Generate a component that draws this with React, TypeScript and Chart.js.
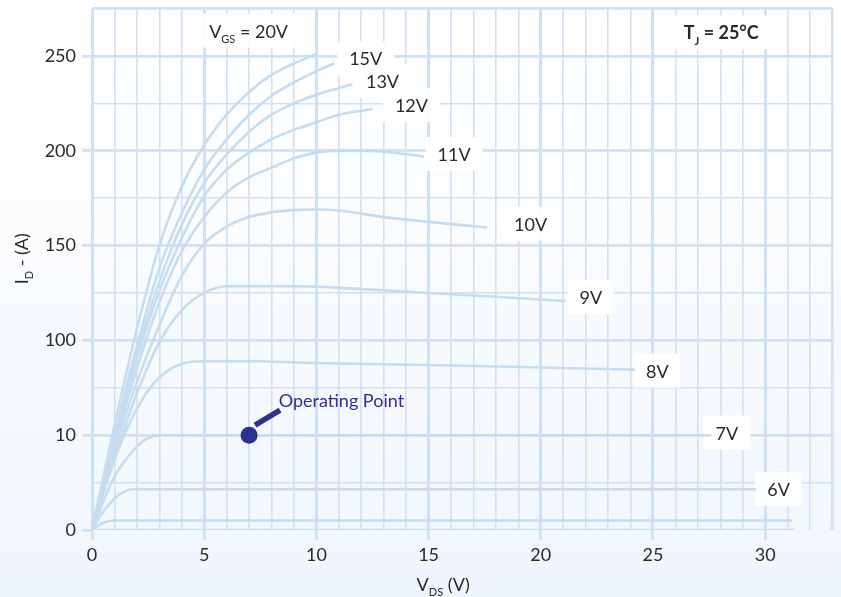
import React, { useEffect, useRef } from 'react';
import { Chart, registerables } from 'chart.js';

Chart.register(...registerables);

// ---------- data ----------
const xTickValues = [0, 5, 10, 15, 20, 25, 30];
const yTickValues = [0, 50, 100, 150, 200, 250];
const yTickLabels = ['0', '10', '100', '150', '200', '250'];

const v20X = [0, 1, 2, 3, 4, 5, 6, 7, 8, 9, 10];
const v20Y = [0, 55, 106, 150, 181, 203, 219, 231, 240, 246, 251];

const v15X = [0, 1, 2, 3, 4, 5, 6, 7, 8, 9, 10, 10.8];
const v15Y = [0, 50, 97, 138, 167, 190, 206, 219, 229, 236, 242, 246];

const v13X = [0, 1, 2, 3, 4, 5, 6, 7, 8, 9, 10, 11, 11.6];
const v13Y = [0, 48, 93, 131, 161, 183, 198, 210, 219, 225, 229.5, 233, 235];

const v12X = [0, 1, 2, 3, 4, 5, 6, 7, 8, 9, 10, 11, 12.5];
const v12Y = [0, 47, 90, 126, 154, 176, 190, 199, 206, 211, 215, 219, 222];

const v11X = [0, 1, 2, 3, 4, 5, 6, 7, 8, 9, 10, 11, 12, 13, 14.8];
const v11Y = [0, 45, 85, 120, 147, 165, 178, 186, 191, 196, 199, 200, 200, 199.5, 197];

const v10X = [0, 1, 2, 3, 4, 5, 6, 7, 8, 9, 10, 11, 13, 15, 17.6];
const v10Y = [0, 42, 78, 108, 134, 151, 160, 165, 167.5, 168.7, 169, 168.5, 165, 162.5, 159.5];

const v9X = [0, 1, 2, 3, 4, 5, 6, 9.2, 12, 15, 18, 21.1];
const v9Y = [0, 38, 72, 99, 116, 125, 128.5, 128.5, 127, 125, 123, 120.7];

const v8X = [0, 0.8, 1.5, 2.2, 2.8, 3.5, 4.3, 5, 7, 10, 15, 20, 24.2];
const v8Y = [0, 30, 52, 68, 78, 85, 88.5, 89, 89, 88, 87, 85.7, 84.5];

const v7X = [0, 0.5, 1, 1.5, 2, 2.5, 3, 27.6];
const v7Y = [0, 15, 28, 37, 44, 48.5, 50, 50];

const v6X = [0, 0.4, 0.8, 1.2, 1.8, 29.6];
const v6Y = [0, 8, 14, 18.5, 21.5, 21.5];

const v5X = [0, 0.3, 0.6, 1, 31.2];
const v5Y = [0, 2.5, 4.2, 5, 5];

const v4X = [0, 31.3];
const v4Y = [0, 0];

const opX = [7];
const opY = [50];

const curveLabels = ['15V', '13V', '12V', '11V', '10V', '9V', '8V', '7V', '6V'];
const curveLabelX = [11.46, 12.21, 13.5, 15.4, 18.81, 21.73, 24.69, 27.79, 30.09];
const curveLabelY = [245.0, 232.9, 220.4, 194.6, 157.9, 119.1, 80.3, 47.7, 17.8];

const series = [
  [v20X, v20Y], [v15X, v15Y], [v13X, v13Y], [v12X, v12Y], [v11X, v11Y],
  [v10X, v10Y], [v9X, v9Y], [v8X, v8Y], [v7X, v7Y], [v6X, v6Y], [v5X, v5Y], [v4X, v4Y],
];

// ---------- style ----------
const FONT = 'Lato, "Open Sans", sans-serif';
const GRID = '#cfe1f2';
const CURVE = '#c6dcef';
const NAVY = '#2e3192';
const TEXT = '#2a2a2a';
const TRANSPARENT = 'rgba(0,0,0,0)';

type Part = { t: string; sub?: boolean };

function drawParts(ctx: CanvasRenderingContext2D, parts: Part[], x: number, y: number, size: number, bold: boolean, color: string) {
  let cx = x;
  const w = bold ? 'bold ' : '';
  ctx.fillStyle = color;
  ctx.textAlign = 'left';
  ctx.textBaseline = 'alphabetic';
  for (const p of parts) {
    if (p.sub) {
      ctx.font = `${w}${Math.round(size * 0.62)}px ${FONT}`;
      ctx.fillText(p.t, cx, y + size * 0.3);
    } else {
      ctx.font = `${w}${size}px ${FONT}`;
      ctx.fillText(p.t, cx, y);
    }
    cx += ctx.measureText(p.t).width;
  }
  return cx - x;
}

function measureParts(ctx: CanvasRenderingContext2D, parts: Part[], size: number, bold: boolean) {
  let w = 0;
  const b = bold ? 'bold ' : '';
  for (const p of parts) {
    ctx.font = `${b}${p.sub ? Math.round(size * 0.62) : size}px ${FONT}`;
    w += ctx.measureText(p.t).width;
  }
  return w;
}

const annotPlugin = {
  id: 'annot',
  beforeDatasetsDraw(chart: any) {
    const { ctx, scales } = chart;
    const xs = scales.x;
    const ys = scales.y;
    ctx.save();
    const size = 18;
    const boxes: { parts: Part[]; x: number; y: number; bold: boolean }[] = [];
    curveLabels.forEach((t, i) => {
      boxes.push({ parts: [{ t }], x: xs.getPixelForValue(curveLabelX[i]), y: ys.getPixelForValue(curveLabelY[i]), bold: false });
    });
    boxes.push({ parts: [{ t: 'V' }, { t: 'GS', sub: true }, { t: ' = 20V' }], x: xs.getPixelForValue(5.22), y: ys.getPixelForValue(259.7), bold: false });
    boxes.push({ parts: [{ t: 'T' }, { t: 'J', sub: true }, { t: ' = 25°C' }], x: xs.getPixelForValue(26.37), y: ys.getPixelForValue(258.7), bold: true });
    ctx.fillStyle = 'rgba(255,255,255,0.92)';
    boxes.forEach((b) => {
      const w = measureParts(ctx, b.parts, size, b.bold);
      ctx.fillRect(b.x - 12, b.y - 24, w + 24, 34);
    });
    boxes.forEach((b) => {
      drawParts(ctx, b.parts, b.x, b.y, size, b.bold, TEXT);
    });
    ctx.restore();
  },
  afterDatasetsDraw(chart: any) {
    const { ctx, scales, chartArea } = chart;
    const xs = scales.x;
    const ys = scales.y;
    ctx.save();
    const cx = xs.getPixelForValue(opX[0]);
    const cy = ys.getPixelForValue(opY[0]);
    ctx.strokeStyle = NAVY;
    ctx.lineWidth = 5.5;
    ctx.lineCap = 'butt';
    ctx.beginPath();
    ctx.moveTo(cx + 6, cy - 10);
    ctx.lineTo(cx + 31, cy - 25);
    ctx.stroke();
    ctx.font = `18px ${FONT}`;
    ctx.fillStyle = NAVY;
    ctx.textAlign = 'left';
    ctx.textBaseline = 'alphabetic';
    ctx.fillText('Operating Point', xs.getPixelForValue(8.32), ys.getPixelForValue(65.1));

    const xt: Part[] = [{ t: 'V' }, { t: 'DS', sub: true }, { t: ' (V)' }];
    const xw = measureParts(ctx, xt, 18, false);
    drawParts(ctx, xt, xs.getPixelForValue(15.65) - xw / 2, chartArea.bottom + 61, 18, false, TEXT);

    const yt: Part[] = [{ t: 'I' }, { t: 'D', sub: true }, { t: ' - (A)' }];
    const yw = measureParts(ctx, yt, 18, false);
    ctx.translate(28, ys.getPixelForValue(143));
    ctx.rotate(-Math.PI / 2);
    drawParts(ctx, yt, -yw / 2, 0, 18, false, TEXT);
    ctx.restore();
  },
};

export default function App() {
  const ref = useRef<HTMLCanvasElement | null>(null);

  useEffect(() => {
    document.body.style.margin = '0';
    const canvas = ref.current;
    if (!canvas) return;

    const datasets: any[] = series.map(([xsArr, ysArr]) => ({
      type: 'line',
      data: xsArr.map((v, i) => ({ x: v, y: ysArr[i] })),
      borderColor: CURVE,
      borderWidth: 2.6,
      pointRadius: 0,
      cubicInterpolationMode: 'monotone',
      fill: false,
      order: 2,
    }));
    datasets.push({
      type: 'scatter',
      data: opX.map((v, i) => ({ x: v, y: opY[i] })),
      backgroundColor: NAVY,
      borderWidth: 0,
      pointRadius: 8.5,
      pointHoverRadius: 8.5,
      order: 1,
    });

    const chart = new Chart(canvas, {
      type: 'line',
      data: { datasets },
      plugins: [annotPlugin],
      options: {
        responsive: false,
        animation: false,
        events: [],
        layout: { padding: { top: 6, right: 3, left: 0, bottom: 0 } },
        plugins: { legend: { display: false }, tooltip: { enabled: false } },
        scales: {
          x: {
            type: 'linear',
            min: 0,
            max: 33,
            afterFit: (s: any) => { s.height = 67; s.paddingLeft = 0; s.paddingRight = 0; },
            border: { display: false },
            ticks: {
              stepSize: 1,
              autoSkip: false,
              maxRotation: 0,
              padding: 4,
              color: TEXT,
              font: { family: FONT, size: 18 },
              callback: (v: any) => (xTickValues.includes(Number(v)) ? String(v) : ''),
            },
            grid: {
              color: GRID,
              lineWidth: (c: any) => {
                const v = c.tick ? c.tick.value : 0;
                if (v === 33) return 2.5;
                return v % 5 === 0 ? 3 : 1.6;
              },
              tickLength: 10,
              tickColor: (c: any) => (c.tick && xTickValues.includes(c.tick.value) ? GRID : TRANSPARENT),
              tickWidth: 3,
            },
          },
          y: {
            type: 'linear',
            min: 0,
            max: 275,
            afterFit: (s: any) => { s.width = 92; s.paddingTop = 0; s.paddingBottom = 0; },
            border: { display: false },
            ticks: {
              stepSize: 25,
              autoSkip: false,
              padding: 6,
              color: TEXT,
              font: { family: FONT, size: 18 },
              callback: (v: any) => {
                const i = yTickValues.indexOf(Number(v));
                return i >= 0 ? yTickLabels[i] : '';
              },
            },
            grid: {
              color: (c: any) => (c.tick && c.tick.value === 0 ? TRANSPARENT : GRID),
              lineWidth: (c: any) => {
                const v = c.tick ? c.tick.value : 0;
                return v % 50 === 0 || v === 275 ? 2.7 : 1.6;
              },
              tickLength: 10,
              tickColor: (c: any) => (c.tick && yTickValues.includes(c.tick.value) ? GRID : TRANSPARENT),
              tickWidth: 2.7,
            },
          },
        },
      },
    });
    return () => chart.destroy();
  }, []);

  return (
    <div
      style={{
        width: 841,
        height: 597,
        background: 'linear-gradient(to bottom, #ffffff 0%, #fafcfe 40%, #eff6fc 100%)',
      }}
    >
      <canvas ref={ref} width={841} height={597} style={{ display: 'block' }} />
    </div>
  );
}
